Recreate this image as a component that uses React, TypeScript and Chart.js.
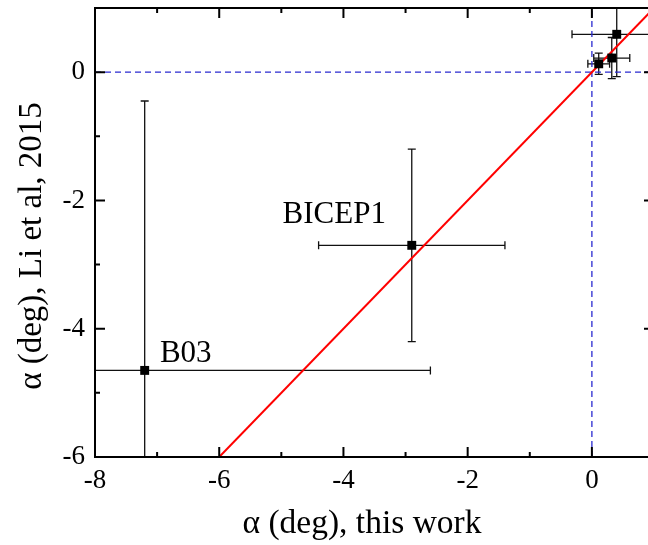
import React, { useEffect, useRef } from 'react';
import { Chart, registerables } from 'chart.js';

Chart.register(...registerables);

// Measurements: alpha (this work) vs alpha (Li et al, 2015)
const pointNames = ['B03', 'BICEP1', 'P1', 'P2', 'P3'];
const xValues = [-7.2, -2.9, 0.4, 0.32, 0.11];
const yValues = [-4.65, -2.7, 0.59, 0.22, 0.13];
const xErrors = [4.6, 1.5, 0.72, 0.29, 0.175];
const yErrors = [4.2, 1.5, 0.66, 0.32, 0.165];

// text labels placed in data coordinates (left / baseline)
const labelTexts = ['B03', 'BICEP1'];
const labelX = [-6.955, -4.98];
const labelY = [-4.52, -2.35];

// y = x line
const fitX = [-6, 1];
const fitY = [-6, 1];

// zero reference lines
const zeroX = [-8, 1];
const zeroY = [-6, 1];

const xMajorTicks = [-8, -6, -4, -2, 0];
const xMinorTicks = [-7, -5, -3, -1, 1];
const yMajorTicks = [-6, -4, -2, 0];
const yMinorTicks = [-5, -3, -1, 1];

const xTitle = 'α (deg), this work';
const yTitle = 'α (deg), Li et al, 2015';

const FONT = '"Liberation Serif", "Times New Roman", serif';

const errorBarPlugin = {
  id: 'errorBars',
  beforeDatasetsDraw(chart: any) {
    const { ctx, chartArea: a, scales } = chart;
    const xs = scales.x;
    const ys = scales.y;
    ctx.save();
    ctx.beginPath();
    ctx.rect(a.left, a.top, a.right - a.left, a.bottom - a.top);
    ctx.clip();
    ctx.strokeStyle = '#111';
    ctx.lineWidth = 1.3;
    const cap = 4;
    ctx.beginPath();
    for (let i = 0; i < xValues.length; i++) {
      const cx = xs.getPixelForValue(xValues[i]);
      const cy = ys.getPixelForValue(yValues[i]);
      const x1 = xs.getPixelForValue(xValues[i] - xErrors[i]);
      const x2 = xs.getPixelForValue(xValues[i] + xErrors[i]);
      const y1 = ys.getPixelForValue(yValues[i] - yErrors[i]);
      const y2 = ys.getPixelForValue(yValues[i] + yErrors[i]);
      ctx.moveTo(x1, cy); ctx.lineTo(x2, cy);
      ctx.moveTo(x1, cy - cap); ctx.lineTo(x1, cy + cap);
      ctx.moveTo(x2, cy - cap); ctx.lineTo(x2, cy + cap);
      ctx.moveTo(cx, y1); ctx.lineTo(cx, y2);
      ctx.moveTo(cx - cap, y1); ctx.lineTo(cx + cap, y1);
      ctx.moveTo(cx - cap, y2); ctx.lineTo(cx + cap, y2);
    }
    ctx.stroke();
    ctx.restore();
  },
};

const framePlugin = {
  id: 'frameTicks',
  afterDatasetsDraw(chart: any) {
    const { ctx, chartArea: a, scales } = chart;
    const xs = scales.x;
    const ys = scales.y;
    ctx.save();
    ctx.strokeStyle = '#000';
    ctx.lineWidth = 2;
    ctx.beginPath();
    const tick = (list: number[], len: number) => {
      for (const v of list) {
        const px = xs.getPixelForValue(v);
        ctx.moveTo(px, a.bottom); ctx.lineTo(px, a.bottom - len);
        ctx.moveTo(px, a.top); ctx.lineTo(px, a.top + len);
      }
    };
    const tickY = (list: number[], len: number) => {
      for (const v of list) {
        const py = ys.getPixelForValue(v);
        ctx.moveTo(a.left, py); ctx.lineTo(a.left + len, py);
        ctx.moveTo(a.right, py); ctx.lineTo(a.right - len, py);
      }
    };
    tick(xMajorTicks, 10);
    tick(xMinorTicks, 5);
    tickY(yMajorTicks, 10);
    tickY(yMinorTicks, 5);
    ctx.stroke();
    ctx.strokeRect(a.left, a.top, a.right - a.left, a.bottom - a.top);
    ctx.restore();
  },
  afterDraw(chart: any) {
    const { ctx, chartArea: a, scales } = chart;
    const xs = scales.x;
    const ys = scales.y;
    ctx.save();
    ctx.fillStyle = '#000';
    ctx.font = `31px ${FONT}`;
    ctx.textAlign = 'left';
    ctx.textBaseline = 'alphabetic';
    for (let i = 0; i < labelTexts.length; i++) {
      ctx.fillText(labelTexts[i], xs.getPixelForValue(labelX[i]), ys.getPixelForValue(labelY[i]));
    }
    // axis titles
    ctx.textAlign = 'center';
    ctx.textBaseline = 'alphabetic';
    ctx.font = `33.5px ${FONT}`;
    ctx.fillText(xTitle, a.left + 267, a.bottom + 76);
    ctx.save();
    ctx.translate(a.left - 54, a.top + 238);
    ctx.rotate(-Math.PI / 2);
    ctx.font = `33px ${FONT}`;
    ctx.fillText(yTitle, 0, 0);
    ctx.restore();
    ctx.restore();
  },
};

export default function App() {
  const canvasRef = useRef<HTMLCanvasElement | null>(null);

  useEffect(() => {
    const canvas = canvasRef.current;
    if (!canvas) return;
    const points = xValues.map((x, i) => ({ x, y: yValues[i] }));
    const chart = new Chart(canvas, {
      type: 'scatter',
      data: {
        datasets: [
          {
            label: 'data',
            data: points,
            pointStyle: 'rect',
            pointRadius: 6.3,
            pointBorderWidth: 0,
            backgroundColor: '#000',
            borderColor: '#000',
            showLine: false,
          },
          {
            label: 'y=x',
            data: fitX.map((x, i) => ({ x, y: fitY[i] })),
            showLine: true,
            borderColor: '#ff0000',
            borderWidth: 2,
            pointRadius: 0,
          },
          {
            label: 'y0',
            data: zeroX.map((x) => ({ x, y: 0 })),
            showLine: true,
            borderColor: '#2a2ad0',
            borderWidth: 1.3,
            borderDash: [6, 4],
            pointRadius: 0,
          },
          {
            label: 'x0',
            data: zeroY.map((y) => ({ x: 0, y })),
            showLine: true,
            borderColor: '#2a2ad0',
            borderWidth: 1.3,
            borderDash: [6, 4],
            pointRadius: 0,
          },
        ],
      },
      options: {
        responsive: false,
        animation: false,
        devicePixelRatio: 1,
        layout: { padding: { left: 0, top: 8, right: 16, bottom: 0 } },
        plugins: {
          legend: { display: false },
          tooltip: { enabled: false },
        },
        scales: {
          x: {
            type: 'linear',
            min: -8,
            max: 1,
            grid: { display: false, drawTicks: false },
            border: { display: false },
            afterBuildTicks: (s: any) => {
              s.ticks = xMajorTicks.map((v) => ({ value: v }));
            },
            afterFit: (s: any) => {
              s.height = 88;
              s.paddingLeft = 0;
              s.paddingRight = 0;
            },
            ticks: {
              padding: 8,
              color: '#000',
              font: { family: FONT, size: 27 },
              maxRotation: 0,
            },
          },
          y: {
            type: 'linear',
            min: -6,
            max: 1,
            grid: { display: false, drawTicks: false },
            border: { display: false },
            afterBuildTicks: (s: any) => {
              s.ticks = yMajorTicks.map((v) => ({ value: v }));
            },
            afterFit: (s: any) => {
              s.width = 95;
              s.paddingTop = 0;
              s.paddingBottom = 0;
            },
            ticks: {
              padding: 10,
              color: '#000',
              font: { family: FONT, size: 27 },
            },
          },
        },
      },
      plugins: [errorBarPlugin, framePlugin],
    });
    return () => chart.destroy();
  }, []);

  return (
    <div style={{ position: 'fixed', left: 0, top: 0, width: 648, height: 545, overflow: 'hidden', background: '#fff' }}>
      <canvas ref={canvasRef} width={670} height={545} style={{ display: 'block' }} />
    </div>
  );
}
